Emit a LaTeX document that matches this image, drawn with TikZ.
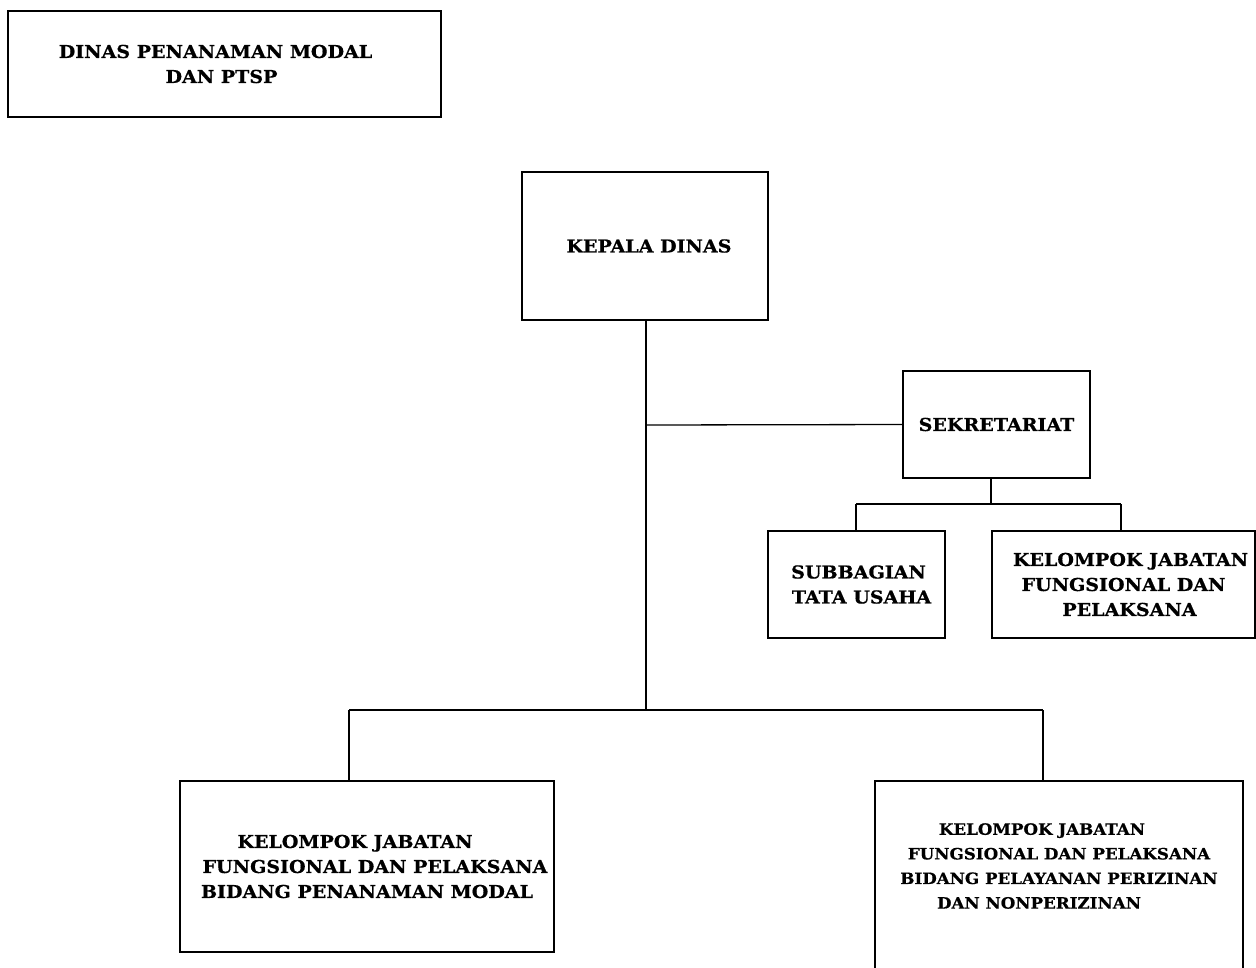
\documentclass[tikz,border=0pt]{standalone}
\usepackage{fontspec}
\setmainfont{DejaVu Serif}[BoldFeatures={FakeStretch=1.07,FakeBold=0.6}]
\begin{document}
\begin{tikzpicture}[x=1pt,y=-1pt,
  box/.style={draw, line width=1.1pt, rectangle, inner sep=0pt, align=center,
    font=\bfseries\fontsize{17.8}{25}\selectfont},
  small/.style={font=\bfseries\fontsize{15.6}{24.6}\selectfont},
  conn/.style={line width=1.3pt}]
\clip (0,0) rectangle (1256,967);
\fill[white] (0,0) rectangle (1256,967);
% boxes
\node[box, minimum width=433pt, minimum height=106pt] (title) at (224.5,64)
  {DINAS PENANAMAN MODAL\hspace*{18pt}\\DAN PTSP\hspace*{6pt}};
\node[box, minimum width=246pt, minimum height=148pt] (kd) at (645,246)
  {\hspace*{8pt}KEPALA DINAS};
\node[box, minimum width=187pt, minimum height=107pt] (sek) at (996.5,424.5)
  {SEKRETARIAT};
\node[box, minimum width=177pt, minimum height=107pt] (sub) at (856.5,584.5)
  {\hspace*{4pt}SUBBAGIAN\\\hspace*{10pt}TATA USAHA};
\node[box, minimum width=263pt, minimum height=107pt] (kel) at (1123.5,584.5)
  {\hspace*{14pt}KELOMPOK JABATAN\\FUNGSIONAL DAN\\\hspace*{12pt}PELAKSANA};
\node[box, minimum width=374pt, minimum height=171pt] (bl) at (367,866.5)
  {KELOMPOK JABATAN\hspace*{24pt}\\\hspace*{16pt}FUNGSIONAL DAN PELAKSANA\\BIDANG PENANAMAN MODAL};
\node[box, minimum width=368pt, minimum height=200pt] (br) at (1059,881) {};
\node[box, small, draw=none] (brt) at (1059,866)
  {KELOMPOK JABATAN\hspace*{34pt}\\FUNGSIONAL DAN PELAKSANA\hspace*{17pt}\\BIDANG PELAYANAN PERIZINAN\hspace*{28pt}\\DAN NONPERIZINAN\hspace*{40pt}};
% junctions
\coordinate (j1) at (646,425);
\coordinate (j2) at (646,710);
\coordinate (s1) at (991,504);
\coordinate (c1) at (349,710);
\coordinate (c2) at (1043,710);
\coordinate (t1) at (856,504);
\coordinate (t2) at (1121,504);
% connectors
\draw[conn] (kd.south -| j2) -- (j2);
\draw[conn] (j1) -- (sek.west);
\draw[conn] (sek.south -| s1) -- (s1);
\draw[conn] (t1) -- (t2);
\draw[conn] (t1) -- (t1 |- sub.north);
\draw[conn] (t2) -- (t2 |- kel.north);
\draw[conn] (c1) -- (c2);
\draw[conn] (c1) -- (c1 |- bl.north);
\draw[conn] (c2) -- (c2 |- br.north);
\end{tikzpicture}
\end{document}
